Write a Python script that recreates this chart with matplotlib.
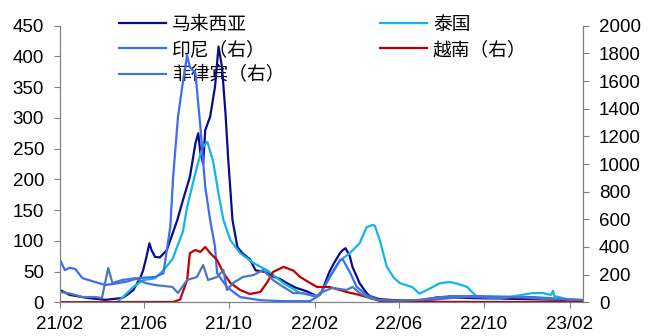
import numpy as np
import pandas as pd
import matplotlib
matplotlib.use("Agg")
import matplotlib.pyplot as plt
import matplotlib.dates as mdates

plt.rcParams['font.family'] = ['Liberation Sans', 'Noto Sans CJK SC', 'DejaVu Sans']

## ---- data (7-day avg deaths) ----
# left axis
my_dates = ["2021-02-01", "2021-02-15", "2021-03-13", "2021-04-07", "2021-05-01", "2021-05-08",
            "2021-05-17", "2021-05-27", "2021-05-31", "2021-06-05", "2021-06-09", "2021-06-12",
            "2021-06-17", "2021-06-24", "2021-07-04", "2021-07-19", "2021-07-27", "2021-08-06",
            "2021-08-14", "2021-08-18", "2021-08-21", "2021-08-25", "2021-08-28", "2021-09-04",
            "2021-09-11", "2021-09-16", "2021-09-21", "2021-09-26", "2021-09-30", "2021-10-06",
            "2021-10-13", "2021-10-20", "2021-10-31", "2021-11-08", "2021-11-19", "2021-11-25",
            "2021-12-03", "2021-12-13", "2021-12-25", "2022-01-04", "2022-01-20", "2022-02-04",
            "2022-02-10", "2022-02-22", "2022-03-01", "2022-03-09", "2022-03-13", "2022-03-17",
            "2022-03-23", "2022-03-27", "2022-04-02", "2022-04-06", "2022-04-16", "2022-04-21",
            "2022-05-05", "2022-06-03", "2022-07-01", "2022-07-26", "2022-08-13", "2022-09-07",
            "2022-10-24", "2022-12-10", "2023-01-18", "2023-02-20"]
my_vals = [20, 12, 7, 4, 7, 12,
           20, 40, 52, 75, 96, 85,
           74, 73, 85, 134, 166, 204,
           259, 275, 243, 226, 280, 302,
           351, 416, 383, 307, 231, 134,
           90, 80, 70, 52, 50, 48,
           42, 38, 30, 24, 18, 10,
           15, 50, 65, 80, 85, 88,
           75, 57, 42, 31, 15, 10,
           5, 3, 3, 8, 8, 7,
           6, 5, 4, 2]

th_dates = ["2021-02-01", "2021-04-24", "2021-05-08", "2021-05-17", "2021-05-31", "2021-06-17",
            "2021-06-29", "2021-07-12", "2021-07-27", "2021-08-02", "2021-08-16", "2021-08-24",
            "2021-08-31", "2021-09-08", "2021-09-16", "2021-09-23", "2021-10-03", "2021-10-17",
            "2021-11-05", "2021-11-25", "2021-12-18", "2022-01-11", "2022-02-04", "2022-02-08",
            "2022-02-22", "2022-03-09", "2022-03-23", "2022-04-06", "2022-04-16", "2022-04-25",
            "2022-04-28", "2022-05-05", "2022-05-15", "2022-05-25", "2022-06-03", "2022-06-20",
            "2022-07-01", "2022-07-15", "2022-07-30", "2022-08-13", "2022-08-25", "2022-09-07",
            "2022-09-21", "2022-10-24", "2022-12-10", "2022-12-25", "2023-01-05", "2023-01-08",
            "2023-01-10", "2023-01-18", "2023-02-01", "2023-02-20"]
th_vals = [0, 0, 15, 25, 36, 39,
           52, 70, 115, 155, 220, 252,
           261, 231, 177, 134, 101, 80,
           64, 52, 31, 15, 10, 12,
           40, 68, 80, 96, 122, 126,
           124, 101, 58, 40, 31, 25,
           14, 22, 31, 33, 30, 25,
           9, 6, 15, 15, 12, 19,
           10, 8, 4, 2]

# right axis
id_dates = ["2021-02-01", "2021-02-08", "2021-02-15", "2021-02-23", "2021-03-05", "2021-03-23",
            "2021-04-07", "2021-04-21", "2021-05-08", "2021-05-24", "2021-06-17", "2021-06-29",
            "2021-07-09", "2021-07-13", "2021-07-20", "2021-07-26", "2021-08-02", "2021-08-06",
            "2021-08-14", "2021-08-21", "2021-08-28", "2021-09-04", "2021-09-11", "2021-09-14",
            "2021-09-28", "2021-10-17", "2021-11-15", "2021-12-18", "2022-01-25", "2022-02-08",
            "2022-02-22", "2022-03-09", "2022-03-13", "2022-03-23", "2022-04-02", "2022-04-16",
            "2022-05-05", "2022-06-03", "2022-07-01", "2022-08-13", "2022-09-07", "2022-10-24",
            "2022-12-10", "2023-01-18", "2023-02-20"]
id_vals = [306, 233, 250, 240, 175, 147,
           125, 135, 150, 175, 183, 210,
           547, 908, 1342, 1558, 1787, 1700,
           1657, 1268, 834, 595, 400, 210,
           111, 38, 15, 8, 8, 53,
           183, 306, 310, 219, 111, 53,
           15, 8, 10, 30, 38, 35,
           38, 25, 15]

vn_dates = ["2021-02-01", "2021-07-13", "2021-07-23", "2021-08-02", "2021-08-06", "2021-08-14",
            "2021-08-21", "2021-08-28", "2021-09-04", "2021-09-14", "2021-09-23", "2021-10-03",
            "2021-10-17", "2021-10-31", "2021-11-15", "2021-11-25", "2021-12-03", "2021-12-18",
            "2022-01-01", "2022-01-11", "2022-01-25", "2022-02-04", "2022-02-22", "2022-03-18",
            "2022-04-06", "2022-04-21", "2022-05-05", "2022-06-03", "2022-10-24", "2023-02-20"]
vn_vals = [0, 2, 20, 161, 356, 378,
           364, 400, 356, 306, 212, 140,
           89, 60, 75, 147, 219, 256,
           230, 183, 140, 111, 111, 75,
           53, 31, 10, 4, 2, 1]

ph_dates = ["2021-02-01", "2021-02-12", "2021-02-23", "2021-03-05", "2021-03-23", "2021-04-02",
            "2021-04-11", "2021-04-17", "2021-05-01", "2021-05-20", "2021-06-03", "2021-06-17",
            "2021-07-12", "2021-07-20", "2021-08-02", "2021-08-16", "2021-08-25", "2021-09-01",
            "2021-09-14", "2021-09-23", "2021-09-28", "2021-10-07", "2021-10-21", "2021-11-05",
            "2021-11-19", "2021-12-03", "2021-12-18", "2022-01-01", "2022-01-15", "2022-02-04",
            "2022-02-08", "2022-02-26", "2022-03-18", "2022-03-27", "2022-04-06", "2022-04-21",
            "2022-05-05", "2022-06-03", "2022-07-01", "2022-08-13", "2022-09-21", "2022-11-10",
            "2022-12-25", "2023-02-20"]
ph_vals = [75, 67, 53, 38, 38, 31,
           248, 140, 161, 175, 140, 125,
           111, 67, 161, 183, 270, 161,
           183, 234, 89, 140, 183, 197,
           234, 161, 111, 67, 67, 38,
           67, 104, 89, 111, 67, 30,
           15, 12, 18, 45, 45, 40,
           25, 18]

tick_dates = ["2021-02-01", "2021-06-01", "2021-10-01", "2022-02-01",
              "2022-06-01", "2022-10-01", "2023-02-01"]

## ---- plotting ----
fig = plt.figure(figsize=(6.56, 3.36), dpi=100)
ax = fig.add_axes([0.0915, 0.1003, 0.7972, 0.8232])
ax2 = ax.twinx()

lw = 1.6
l_my, = ax.plot(pd.to_datetime(my_dates), my_vals, color='#0A0A8C', lw=lw, label='马来西亚')
l_th, = ax.plot(pd.to_datetime(th_dates), th_vals, color='#12B4EE', lw=lw, label='泰国')
l_id, = ax2.plot(pd.to_datetime(id_dates), id_vals, color='#3A6CF6', lw=lw, label='印尼（右）')
l_vn, = ax2.plot(pd.to_datetime(vn_dates), vn_vals, color='#C00000', lw=lw, label='越南（右）')
l_ph, = ax2.plot(pd.to_datetime(ph_dates), ph_vals, color='#4A76C6', lw=lw, label='菲律宾（右）')

ax.set_xlim(pd.Timestamp("2021-02-01"), pd.Timestamp("2023-02-20"))
ax.set_ylim(0, 450)
ax2.set_ylim(0, 2000)
ax.set_yticks(np.arange(0, 451, 50))
ax2.set_yticks(np.arange(0, 2001, 200))
ax.set_xticks(pd.to_datetime(tick_dates))
ax.xaxis.set_major_formatter(mdates.DateFormatter('%y/%m'))

for a in (ax, ax2):
    a.spines['top'].set_visible(False)
    for s in ('left', 'right', 'bottom'):
        a.spines[s].set_color('#7F7F7F')
    a.tick_params(colors='#7F7F7F', labelcolor='black', labelsize=13.5,
                  length=4, pad=7.5, direction='out')
ax.tick_params(axis='x', pad=6)

leg = ax.legend(handles=[l_my, l_id, l_ph, l_th, l_vn], ncol=2, frameon=False,
                loc='upper left', bbox_to_anchor=(0.1814, 0.9595),
                bbox_transform=fig.transFigure,
                prop={'family': ['Noto Sans CJK SC'], 'size': 13.5},
                handlelength=2.5, handletextpad=0.32, columnspacing=5.1,
                labelspacing=0.23, borderaxespad=0, borderpad=0)
leg.set_zorder(0.5)

fig.savefig("out.png", dpi=100)
